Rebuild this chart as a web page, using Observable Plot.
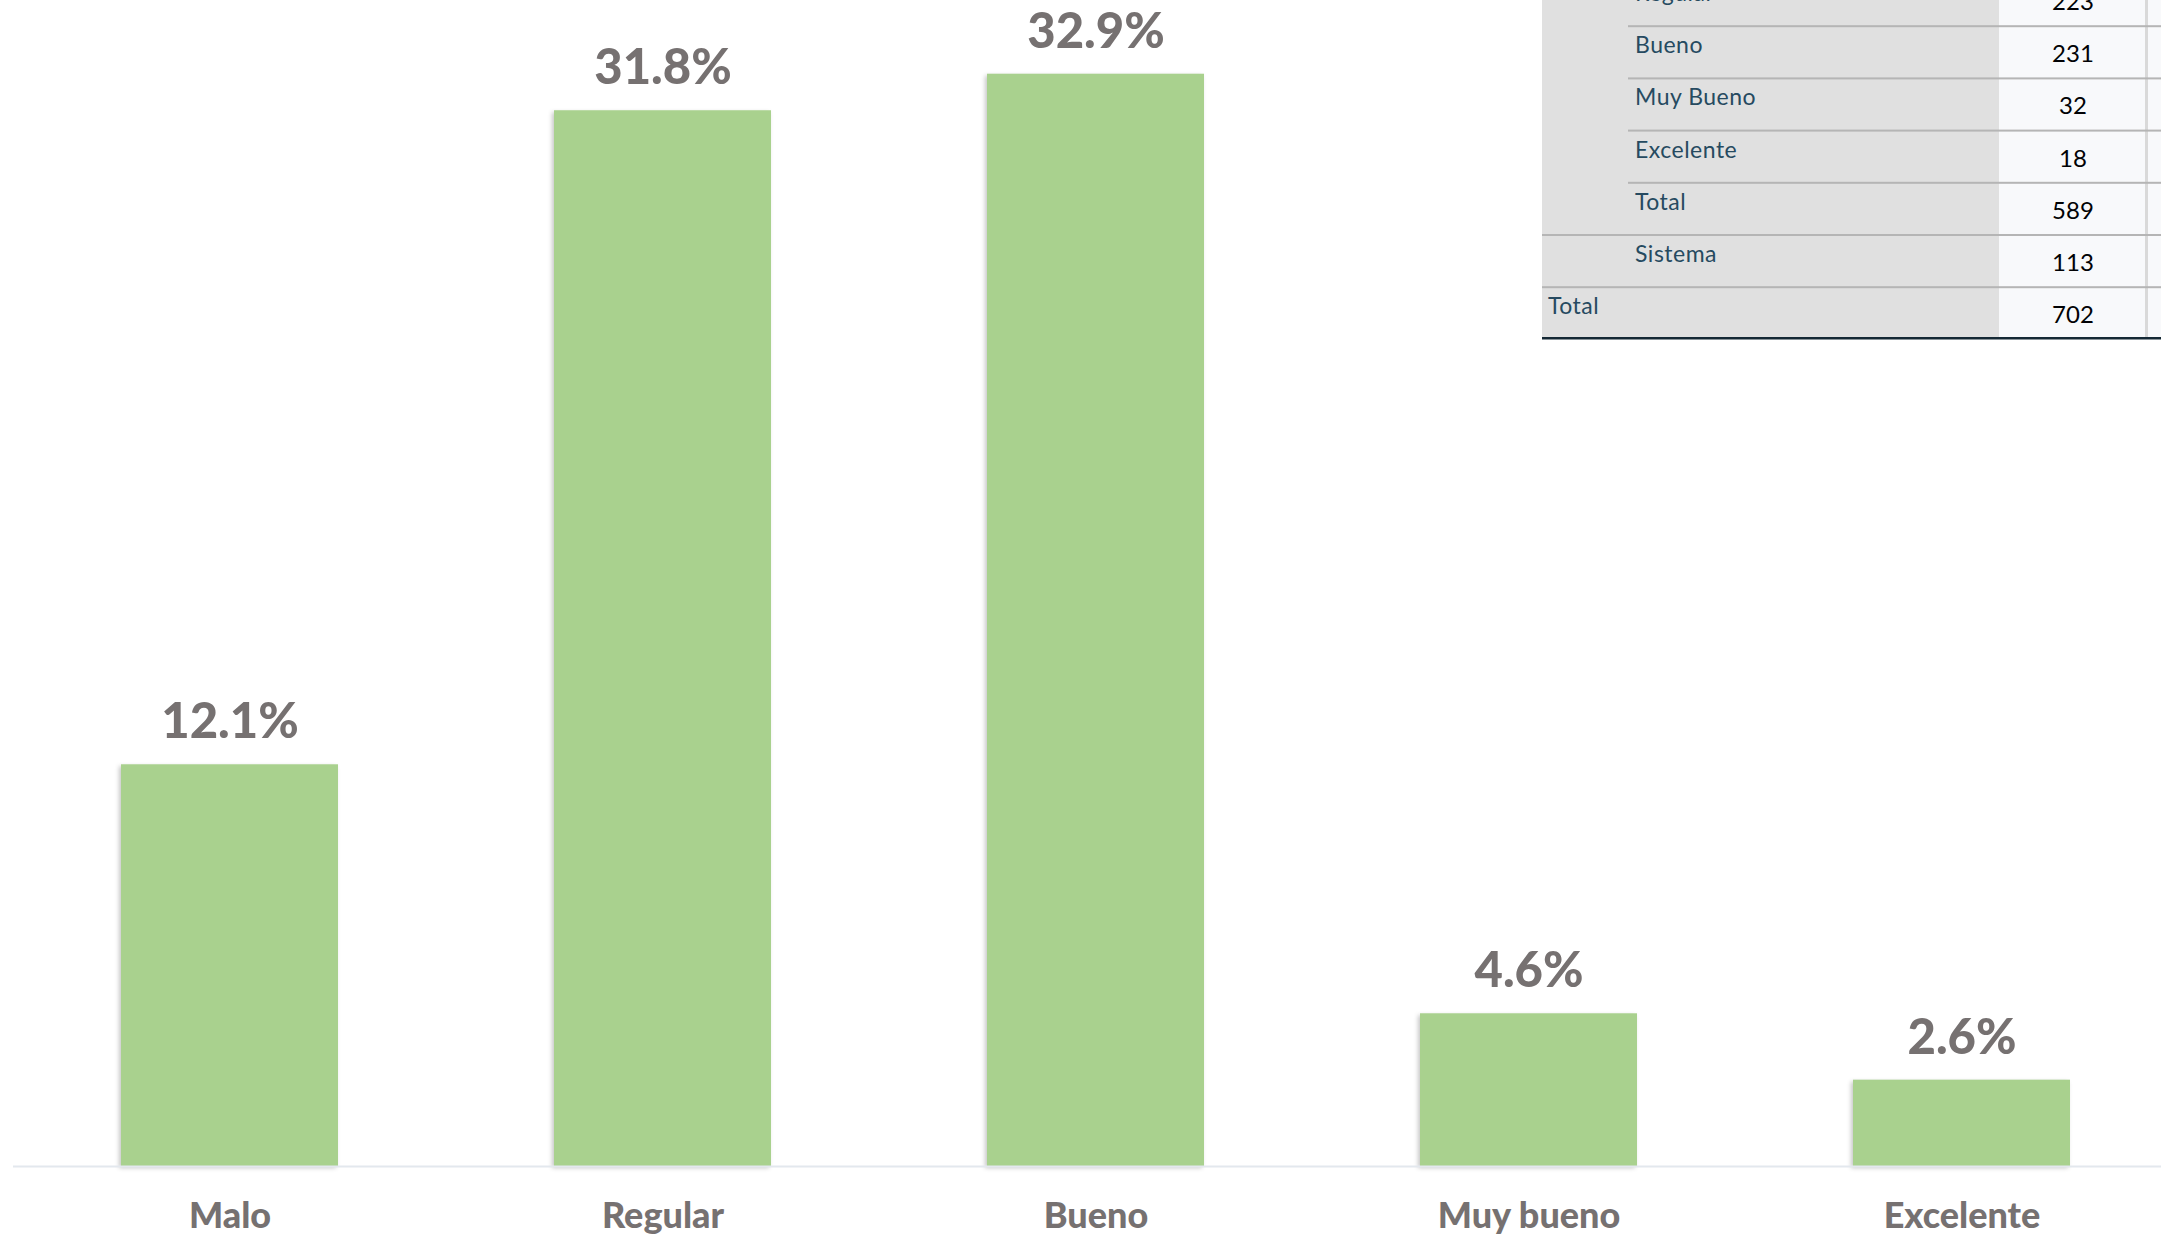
<!DOCTYPE html>
<html>
<head>
<meta charset="utf-8">
<script src="https://cdn.jsdelivr.net/npm/d3@7"></script>
<script src="https://cdn.jsdelivr.net/npm/@observablehq/plot@0.6"></script>
<style>
  html, body { margin: 0; padding: 0; background: #ffffff; }
  #wrap { position: relative; width: 2161px; height: 1236px; overflow: hidden; }
  #chart, #table { position: absolute; left: 0; top: 0; }
</style>
</head>
<body>
<div id="wrap">
  <div id="chart"></div>
  <div id="table"></div>
</div>
<script>
// ---- chart data ----
const categories = ["Malo", "Regular", "Bueno", "Muy bueno", "Excelente"];
const percents = [12.1, 31.8, 32.9, 4.6, 2.6];

// ---- table data (SPSS frequency table, partially visible) ----
const tableLabels = ["Regular", "Bueno", "Muy Bueno", "Excelente", "Total", "Sistema", "Total"];
const tableCounts = [223, 231, 32, 18, 589, 113, 702];
const tableLevel = [1, 1, 1, 1, 1, 1, 0];
const tableGroupLine = [1, 1, 1, 1, 1, 0, 0];

const data = categories.map((c, i) => ({ cat: c, value: percents[i] }));

const W = 2161, H = 1236;
const textColor = "#767171";

const chart = Plot.plot({
  width: W,
  height: H,
  marginLeft: 13,
  marginRight: 0,
  marginTop: 4,
  marginBottom: 70,
  style: { fontFamily: "Lato, 'Open Sans', sans-serif", background: "transparent" },
  x: { type: "band", domain: categories, range: [13, 2178], paddingInner: 0.5, paddingOuter: 0.25, axis: null },
  y: { domain: [0, 35], axis: null },
  marks: [
    Plot.barY(data, { x: "cat", y: "value", fill: "#a9d18e" }),
    Plot.ruleY([0], { stroke: "#e3e8ee", strokeWidth: 2 }),
    Plot.text(data, {
      x: "cat", y: "value", text: d => d.value.toFixed(1) + "%",
      dy: -42, fontSize: 49, fontWeight: 900, fill: textColor
    }),
    Plot.text(data, {
      x: "cat", y: () => 0, text: "cat",
      dy: 50, fontSize: 36, fontWeight: 900, fill: textColor
    })
  ]
});
const barG = chart.querySelector('g[aria-label="bar"]');
if (barG) barG.style.filter = "drop-shadow(-2px 2px 2px rgba(0,0,0,0.22))";
document.getElementById("chart").appendChild(chart);

// ---- table overlay (drawn with d3) ----
const svg = d3.select("#table").append("svg")
  .attr("width", W).attr("height", H)
  .style("font-family", "Lato, 'Open Sans', sans-serif");

const tLeft = 1542, grayRight = 1999, vLine = 2146, tBottom = 338;
const rowH = 52.2, row0 = -26;

svg.append("rect").attr("x", tLeft).attr("y", 0).attr("width", grayRight - tLeft).attr("height", tBottom).attr("fill", "#e0e0e0");
svg.append("rect").attr("x", grayRight).attr("y", 0).attr("width", W - grayRight).attr("height", tBottom).attr("fill", "#f8f9fb");
svg.append("rect").attr("x", vLine - 1).attr("y", 0).attr("width", 3).attr("height", tBottom).attr("fill", "#d9d9d9");

tableLabels.forEach((lab, i) => {
  const top = row0 + rowH * i;
  if (i > 0) {
    const x0 = tableGroupLine[i] ? 1628 : tLeft;
    svg.append("rect").attr("x", x0).attr("y", top - 1).attr("width", W - x0).attr("height", 2).attr("fill", "#b5b5b5");
  }
  svg.append("text")
    .attr("x", tableLevel[i] ? 1635 : 1548)
    .attr("y", top + 27)
    .attr("font-size", 23)
    .attr("letter-spacing", 0.5)
    .attr("fill", "#264a60")
    .text(lab);
  svg.append("text")
    .attr("x", 2073)
    .attr("y", top + 36)
    .attr("font-size", 24)
    .attr("text-anchor", "middle")
    .attr("fill", "#010205")
    .text(tableCounts[i]);
});
svg.append("rect").attr("x", tLeft).attr("y", tBottom - 1).attr("width", W - tLeft).attr("height", 2.5).attr("fill", "#152935");
</script>
</body>
</html>
